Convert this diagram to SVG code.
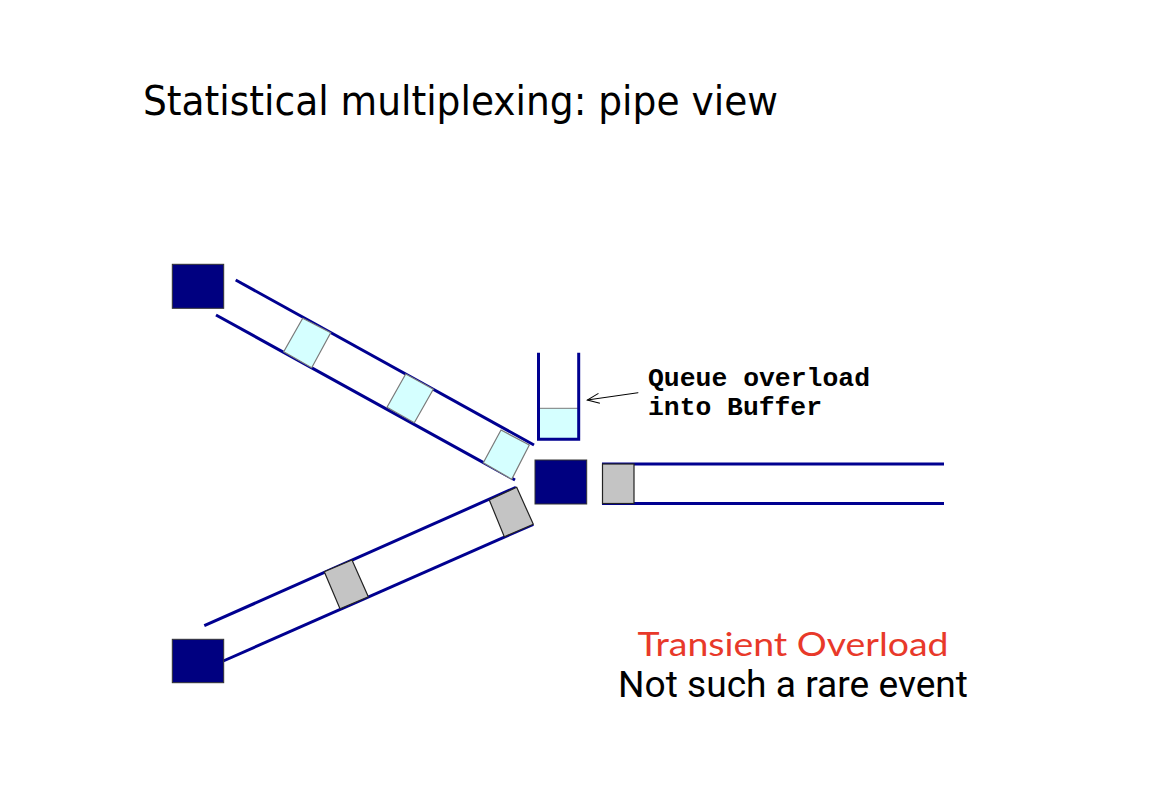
<svg xmlns="http://www.w3.org/2000/svg" width="1166" height="790" viewBox="0 0 1166 790">
<defs>
<style>
.node{fill:#000080;stroke:#333;stroke-width:1}
.pipe{stroke:#000090;stroke-width:3;fill:none;stroke-linecap:butt}
.pc{fill:#d5ffff;stroke:#7a7a7a;stroke-width:1.2}
.pg{fill:#c4c4c4;stroke:#222;stroke-width:1.2}
.lbl{font-family:"Liberation Mono","Courier New",monospace;font-weight:bold;font-size:25px;fill:#000}
</style>
<marker id="open" markerWidth="14" markerHeight="12" refX="13" refY="6" orient="auto" markerUnits="userSpaceOnUse">
<path d="M1,1 L13,6 L1,11" fill="none" stroke="#000" stroke-width="1"/>
</marker>
</defs>
<rect width="1166" height="790" fill="#fff"/>
<text x="143" y="115" font-family="'DejaVu Sans Condensed','Open Sans',sans-serif" font-size="41" textLength="635" lengthAdjust="spacingAndGlyphs" fill="#000">Statistical multiplexing: pipe view</text>

<g id="connectors">
<line class="pipe" x1="235.7" y1="280" x2="534" y2="445"/>
<line class="pipe" x1="216" y1="315" x2="515" y2="480"/>
<line class="pipe" x1="204.3" y1="625.7" x2="516" y2="487.3"/>
<line class="pipe" x1="223.3" y1="661" x2="533.3" y2="524.3"/>
<line class="pipe" x1="602" y1="464" x2="944" y2="464"/>
<line class="pipe" x1="602" y1="503.5" x2="944" y2="503.5"/>
<line x1="638.3" y1="392.7" x2="587.3" y2="400" stroke="#000" stroke-width="1" marker-end="url(#open)"/>
</g>

<g id="packets-upper">
<polygon class="pc" points="302.7,318.3 330.7,332.7 311.7,367.7 283.7,351.7"/>
<polygon class="pc" points="405.7,374 433.3,389.3 414.3,422.7 387,407.3"/>
<polygon class="pc" points="501,430 529.3,445 511.7,479.3 483.3,462.7"/>
</g>
<g id="packets-lower">
<polygon class="pg" points="324.3,571.7 352,560 368.3,596.7 340,608.7"/>
<polygon class="pg" points="489.3,500 516.7,487.3 533.3,524.3 504.3,536.7"/>
</g>
<g id="packet-out">
<rect class="pg" x="602.5" y="464" width="31.5" height="39.5"/>
</g>

<g id="node-top"><rect class="node" x="172.3" y="264.3" width="51.4" height="44"/></g>
<g id="node-bottom"><rect class="node" x="172.3" y="639.3" width="51.4" height="43.4"/></g>
<g id="node-center"><rect class="node" x="535" y="460" width="51.7" height="44"/></g>

<g id="buffer">
<rect x="539" y="408.3" width="39.5" height="31" fill="#d5ffff" stroke="#7a7a7a" stroke-width="1"/>
<path class="pipe" d="M538.5,352.7 V439.3 H578.7 V352.7"/>
</g>

<g id="label-queue">
<text class="lbl" x="648" y="386" textLength="222" lengthAdjust="spacingAndGlyphs">Queue overload</text>
<text class="lbl" x="648" y="415" textLength="174" lengthAdjust="spacingAndGlyphs">into Buffer</text>
</g>

<g id="caption">
<text x="793" y="656" text-anchor="middle" font-family="'Lato','Open Sans',sans-serif" font-size="32" fill="#e8392a" textLength="311" lengthAdjust="spacingAndGlyphs">Transient Overload</text>
<text x="793" y="697" text-anchor="middle" font-family="'Roboto','Liberation Sans',sans-serif" font-size="36" fill="#000" textLength="350" lengthAdjust="spacingAndGlyphs">Not such a rare event</text>
</g>
</svg>
